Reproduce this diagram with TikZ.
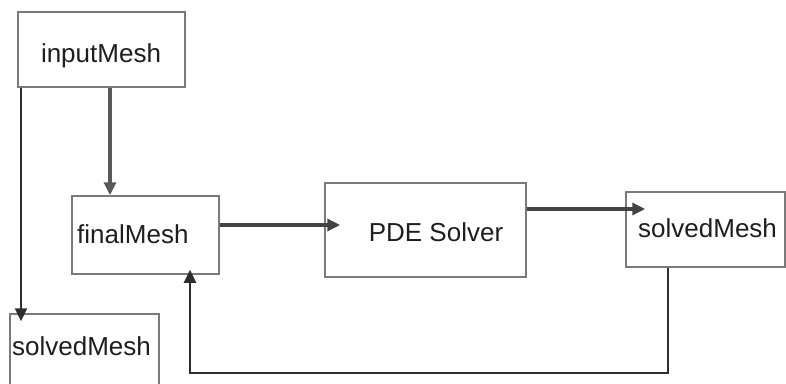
\documentclass[tikz,border=0pt]{standalone}
\usepackage{fontspec}
\setmainfont{Liberation Sans}
\usetikzlibrary{arrows.meta,calc}
\definecolor{boxgray}{HTML}{7A7A7A}
\definecolor{arrdark}{HTML}{2E2E2E}
\definecolor{txt}{HTML}{1E1E1E}
\tikzset{
  box/.style={draw=boxgray, line width=1.5pt, fill=white, rectangle, inner sep=0pt},
  lbl/.style={text=txt, font=\fontsize{26}{30}\selectfont, inner sep=0pt},
  arr/.style={draw=arrdark, line width=2.5pt, -{Triangle[length=13pt,width=12pt]}},
}
\begin{document}
\begin{tikzpicture}[x=1pt,y=-1pt]
\clip (0,0) rectangle (786,383);
\fill[white] (0,0) rectangle (786,383);
% boxes
\node[box, minimum width=167pt, minimum height=75pt] (inp) at (101.5,49.5) {};
\node[box, minimum width=147pt, minimum height=78pt] (fin) at (145.5,235) {};
\node[box, minimum width=201pt, minimum height=94pt] (pde) at (425.5,230) {};
\node[box, minimum width=159pt, minimum height=75pt] (sol) at (705.5,229.5) {};
\node[box, minimum width=149pt, minimum height=90pt] (sol2) at (84.5,359) {};
% labels
\node[lbl, anchor=base] (tinp) at (101,62) {inputMesh};
\node[lbl, anchor=base west] (tfin) at (77,243) {finalMesh};
\node[lbl, anchor=base] (tpde) at (436,241) {PDE Solver};
\node[lbl, anchor=base west] (tsol) at (638,237) {solvedMesh};
\node[lbl, anchor=base west] (tsol2) at (12,355) {solvedMesh};
% connectors
\coordinate (c1) at (21,0);
\coordinate (c2) at (110,0);
\coordinate (c3) at (0,225);
\coordinate (c4) at (0,209);
\coordinate (c5) at (668,0);
\coordinate (c6) at (190,0);
\draw[arr, line width=2.4pt, shorten >=-8pt] (inp.south -| c1) -- (sol2.north -| c1);
\draw[arr, line width=4pt, draw=arrdark!80] (inp.south -| c2) -- (fin.north -| c2);
\draw[arr, line width=3.3pt, draw=arrdark!90, shorten >=-16pt] (fin.east |- c3) -- (pde.west |- c3);
\draw[arr, line width=3.3pt, draw=arrdark!90, shorten >=-20pt] (pde.east |- c4) -- (sol.west |- c4);
\draw[arr, line width=2.2pt, shorten >=-5pt] (sol.south -| c5) -- ++(0,105) -| (fin.south -| c6);
\end{tikzpicture}
\end{document}
